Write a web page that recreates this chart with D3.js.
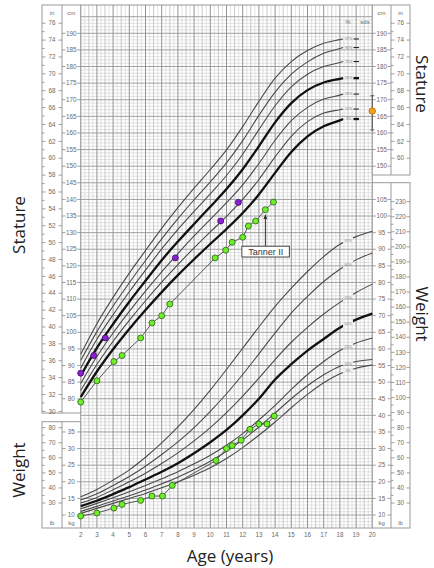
<!DOCTYPE html>
<html>
<head>
<meta charset="utf-8">
<script src="https://cdn.jsdelivr.net/npm/d3@7"></script>
<style>
  body { margin: 0; background: #fff; }
  svg text { font-family: Arial, "Liberation Sans", sans-serif; }
</style>
</head>
<body>
<div id="chart"></div>
<script>
// percentile reference curves
var percentiles = ["97%", "90%", "75%", "50%", "25%", "10%", "3%"]

var statureAges = [2, 3, 4, 5, 6, 7, 8, 9, 10, 11, 12, 13, 14, 15, 16, 17, 18, 18.2]
var stature97 = [93.4, 102.6, 110.5, 117.8, 124.6, 131.3, 137.5, 143.4, 149.0, 154.9, 161.9, 169.5, 176.5, 181.5, 184.8, 187.0, 188.1, 188.3]
var stature90 = [91.5, 100.2, 107.9, 114.9, 121.6, 128.1, 134.2, 139.9, 145.3, 151.0, 157.7, 165.3, 172.3, 177.7, 181.4, 184.0, 185.4, 185.7]
var stature75 = [89.2, 97.9, 105.3, 112.2, 118.7, 125.1, 131.0, 136.4, 141.7, 147.2, 153.6, 161.0, 168.2, 173.9, 177.7, 180.0, 181.2, 181.5]
var stature50 = [86.9, 95.3, 102.5, 109.2, 115.5, 121.7, 127.3, 132.6, 137.8, 143.1, 149.1, 156.0, 163.2, 169.0, 172.9, 175.2, 176.3, 176.5]
var stature25 = [84.6, 92.7, 99.8, 106.3, 112.4, 118.2, 123.7, 129.0, 134.0, 139.0, 144.4, 150.8, 157.8, 163.7, 167.7, 170.2, 171.4, 171.7]
var stature10 = [82.5, 90.3, 97.3, 103.6, 109.5, 115.1, 120.4, 125.4, 130.2, 134.9, 140.0, 146.0, 152.8, 159.0, 163.4, 166.0, 167.0, 167.2]
var stature3 = [80.5, 88.2, 94.9, 101.0, 106.7, 112.1, 117.2, 122.0, 126.6, 131.1, 135.9, 141.5, 148.0, 154.3, 159.0, 162.0, 163.8, 164.2]

var weightAges = [2, 3, 4, 5, 6, 7, 8, 9, 10, 11, 12, 13, 14, 15, 16, 17, 18, 19, 20]
var weight97 = [15.5, 17.7, 20.5, 23.6, 27.4, 31.7, 36.5, 41.8, 47.6, 53.8, 60.2, 66.6, 72.8, 78.3, 83.3, 87.8, 91.5, 93.8, 95.4]
var weight90 = [14.5, 16.4, 18.9, 21.6, 24.7, 28.2, 32.0, 36.3, 41.2, 46.5, 52.3, 58.5, 64.8, 70.8, 75.8, 80.3, 84.0, 86.8, 88.9]
var weight75 = [13.6, 15.3, 17.6, 20.0, 22.6, 25.5, 28.7, 32.3, 36.3, 40.8, 45.8, 51.2, 56.8, 62.0, 66.5, 70.5, 74.0, 77.0, 79.5]
var weight50 = [12.7, 14.3, 16.3, 18.4, 20.7, 23.0, 25.6, 28.6, 31.9, 35.6, 40.0, 45.0, 50.8, 55.4, 59.5, 63.0, 66.4, 68.8, 70.6]
var weight25 = [11.9, 13.5, 15.2, 17.0, 18.9, 20.9, 23.0, 25.4, 28.0, 31.0, 34.5, 38.6, 43.0, 47.8, 52.3, 56.2, 59.5, 61.8, 63.3]
var weight10 = [11.1, 12.6, 14.2, 15.8, 17.5, 19.4, 21.4, 23.7, 26.2, 29.2, 32.6, 36.5, 40.7, 45.0, 48.9, 52.2, 54.8, 56.2, 56.8]
var weight3 = [10.5, 12.0, 13.5, 15.0, 16.5, 18.2, 20.0, 22.0, 24.2, 27.0, 30.3, 34.0, 38.0, 42.3, 46.3, 49.8, 52.5, 54.2, 55.2]

// patient (green)
var heightAges = [2.0, 3.0, 4.05, 4.55, 5.7, 6.4, 7.0, 7.5, 10.3, 10.95, 11.35, 12.0, 12.35, 12.8, 13.4, 13.9]
var heights = [79.0, 85.4, 91.2, 93.0, 98.3, 102.8, 105.0, 108.5, 122.4, 124.7, 127.1, 128.6, 132.0, 133.5, 136.9, 139.2]
var weighAges = [2.0, 3.0, 4.05, 4.55, 5.7, 6.4, 7.05, 7.65, 10.35, 11.0, 11.35, 11.9, 12.45, 13.0, 13.5, 13.95]
var weights = [9.7, 10.6, 12.1, 13.2, 14.4, 15.7, 15.7, 18.9, 26.4, 30.0, 30.9, 32.5, 35.8, 37.4, 37.4, 39.8]

// second child (purple)
var otherAges = [2.0, 2.8, 3.52, 7.84, 10.64, 11.73]
var otherHeights = [87.7, 93.0, 98.3, 122.4, 133.5, 139.1]

// target height at 20 y: [low, mid, high]
var targetHeight = [160.9, 166.6, 171.2]

var ageTicks = d3.range(2, 21)
var tannerIndex = 14

var statureCurves = [stature97, stature90, stature75, stature50, stature25, stature10, stature3]
var weightCurves = [weight97, weight90, weight75, weight50, weight25, weight10, weight3]
var statureThick = ["50%", "3%"]
var weightThick = ["50%"]

var width = 434, height = 568
var plotTop = 5, plotBottom = 528

var svg = d3.select("#chart").append("svg")
  .attr("width", width)
  .attr("height", height)
var defs = svg.append("defs")

var xScale = d3.scaleLinear().domain([2, 20]).range([80.7, 372.3])
// cm and kg share one millimetre grid, kg offset by 35 units
var yStature = d3.scaleLinear().domain([195, 41]).range([16.7, 528.3])
var yWeight = d3.scaleLinear().domain([160, 6]).range([16.7, 528.3])

// ---------- grid ----------
var grid = svg.append("g")
var unitLines = d3.range(42, 196)
grid.selectAll(".hmin").data(unitLines.filter(function(u) { return u % 5 != 0 }))
  .enter().append("line")
  .attr("x1", xScale(2)).attr("x2", xScale(20))
  .attr("y1", function(u) { return yStature(u) }).attr("y2", function(u) { return yStature(u) })
  .attr("stroke", "#d6d6d6").attr("stroke-width", 0.7)

var quarter = d3.range(2, 20.01, 0.25)
grid.selectAll(".vmin").data(quarter.filter(function(a) { return a % 0.5 != 0 }))
  .enter().append("line")
  .attr("x1", function(a) { return xScale(a) }).attr("x2", function(a) { return xScale(a) })
  .attr("y1", plotTop).attr("y2", plotBottom)
  .attr("stroke", "#d6d6d6").attr("stroke-width", 0.7)

grid.selectAll(".vmid").data(quarter.filter(function(a) { return a % 0.5 == 0 && a % 1 != 0 }))
  .enter().append("line")
  .attr("x1", function(a) { return xScale(a) }).attr("x2", function(a) { return xScale(a) })
  .attr("y1", plotTop).attr("y2", plotBottom)
  .attr("stroke", "#bababa").attr("stroke-width", 0.8)

grid.selectAll(".hmaj").data(unitLines.filter(function(u) { return u % 5 == 0 }))
  .enter().append("line")
  .attr("x1", xScale(2)).attr("x2", xScale(20))
  .attr("y1", function(u) { return yStature(u) }).attr("y2", function(u) { return yStature(u) })
  .attr("stroke", "#a0a0a0").attr("stroke-width", 1)

grid.selectAll(".vmaj").data(ageTicks)
  .enter().append("line")
  .attr("x1", function(a) { return xScale(a) }).attr("x2", function(a) { return xScale(a) })
  .attr("y1", plotTop).attr("y2", plotBottom)
  .attr("stroke", "#939393").attr("stroke-width", 1)

// ---------- side panels ----------
var panels = [
  { x0: 42, x1: 80.7, y0: plotTop, y1: 413 },
  { x0: 42, x1: 80.7, y0: 421.7, y1: plotBottom },
  { x0: 372.3, x1: 410, y0: plotTop, y1: 175 },
  { x0: 372.3, x1: 410, y0: 182.7, y1: plotBottom }
]
svg.selectAll(".panel").data(panels)
  .enter().append("rect")
  .attr("x", function(d) { return d.x0 }).attr("y", function(d) { return d.y0 })
  .attr("width", function(d) { return d.x1 - d.x0 }).attr("height", function(d) { return d.y1 - d.y0 })
  .attr("fill", "#fff").attr("stroke", "#9a9a9a").attr("stroke-width", 1)

svg.append("line").attr("x1", 80.7).attr("x2", 372.3).attr("y1", plotBottom).attr("y2", plotBottom)
  .attr("stroke", "#9a9a9a")
svg.append("line").attr("x1", 80.7).attr("x2", 372.3).attr("y1", plotTop).attr("y2", plotTop)
  .attr("stroke", "#9a9a9a")

// label column: "- 190 -" style
function column(x0, x1, values, yOf, minor) {
  var g = svg.append("g")
  var cx = (x0 + x1) / 2
  g.selectAll("text").data(values).enter().append("text")
    .attr("x", cx).attr("y", function(v) { return yOf(v) + 2.2 })
    .attr("text-anchor", "middle").attr("font-size", 6.3).attr("fill", "#6a6a6a")
    .text(function(v) { return v })
  g.selectAll(".tl").data(values).enter().append("line")
    .attr("x1", x0).attr("x2", x0 + 3.5)
    .attr("y1", function(v) { return yOf(v) }).attr("y2", function(v) { return yOf(v) })
    .attr("stroke", "#888").attr("stroke-width", 0.8)
  g.selectAll(".tr").data(values).enter().append("line")
    .attr("x1", x1 - 3.5).attr("x2", x1)
    .attr("y1", function(v) { return yOf(v) }).attr("y2", function(v) { return yOf(v) })
    .attr("stroke", "#888").attr("stroke-width", 0.8)
  if (minor) {
    g.selectAll(".tm").data(minor).enter().append("line")
      .attr("x1", x0).attr("x2", x0 + 2.5)
      .attr("y1", function(v) { return yOf(v) }).attr("y2", function(v) { return yOf(v) })
      .attr("stroke", "#888").attr("stroke-width", 0.8)
  }
}
function inchY(v) { return yStature(v * 2.54) }
function lbY(v) { return yWeight(v * 0.45359) }

// dividers
svg.append("line").attr("x1", 62).attr("x2", 62).attr("y1", plotTop).attr("y2", 413).attr("stroke", "#9a9a9a")
svg.append("line").attr("x1", 62).attr("x2", 62).attr("y1", 421.7).attr("y2", plotBottom).attr("stroke", "#9a9a9a")
svg.append("line").attr("x1", 391).attr("x2", 391).attr("y1", plotTop).attr("y2", 175).attr("stroke", "#9a9a9a")
svg.append("line").attr("x1", 391).attr("x2", 391).attr("y1", 182.7).attr("y2", plotBottom).attr("stroke", "#9a9a9a")

column(62, 80.7, d3.range(190, 79, -5), yStature)
column(42, 62, d3.range(76, 29, -2), inchY, d3.range(75, 30, -2))
column(62, 80.7, d3.range(35, 9, -5), yWeight)
column(42, 62, d3.range(80, 29, -10), lbY, d3.range(75, 30, -10))
column(372.3, 391, d3.range(190, 149, -5), yStature)
column(391, 410, d3.range(76, 59, -2), inchY, d3.range(75, 60, -2))
column(372.3, 391, d3.range(105, 9, -5), yWeight)
column(391, 410, d3.range(230, 29, -10), lbY, d3.range(225, 30, -10))

var unitLabels = [["in", 52, 15], ["cm", 71.3, 15], ["cm", 381.6, 15], ["in", 400.5, 15],
  ["lb", 52, 524.5], ["kg", 71.3, 524.5], ["kg", 381.6, 524.5], ["lb", 400.5, 524.5],
  ["%", 348, 24], ["sds", 365, 24]]
svg.selectAll(".unit").data(unitLabels).enter().append("text")
  .attr("x", function(d) { return d[1] }).attr("y", function(d) { return d[2] })
  .attr("text-anchor", "middle").attr("font-size", 6).attr("fill", "#6a6a6a")
  .text(function(d) { return d[0] })

// age tick labels
svg.selectAll(".age").data(ageTicks).enter().append("text")
  .attr("x", function(a) { return xScale(a) }).attr("y", 536.5)
  .attr("text-anchor", "middle").attr("font-size", 6.3).attr("fill", "#6a6a6a")
  .text(function(a) { return a })

// ---------- percentile curves ----------
var statureLine = d3.line()
  .x(function(d) { return xScale(d[0]) })
  .y(function(d) { return yStature(d[1]) })
  .curve(d3.curveMonotoneX)
var weightLine = d3.line()
  .x(function(d) { return xScale(d[0]) })
  .y(function(d) { return yWeight(d[1]) })
  .curve(d3.curveMonotoneX)

statureCurves.forEach(function(values, i) {
  var thick = statureThick.indexOf(percentiles[i]) >= 0
  svg.append("path")
    .datum(d3.zip(statureAges, values))
    .attr("d", statureLine)
    .attr("fill", "none")
    .attr("stroke", thick ? "#111" : "#4a4a4a")
    .attr("stroke-width", thick ? 2.3 : 1.1)
  var yEnd = yStature(values[values.length - 1])
  svg.append("text").attr("x", 348.5).attr("y", yEnd + 1.3)
    .attr("text-anchor", "middle").attr("font-size", 3.6).attr("fill", "#777")
    .text(percentiles[i])
  svg.append("line").attr("x1", 353.5).attr("x2", 359).attr("y1", yEnd).attr("y2", yEnd)
    .attr("stroke", "#111").attr("stroke-width", thick ? 2.3 : 1)
})

// weight curves run to 20 y with a gap where the percentage sits
var labelAge = 18.5
var weightLabelY = weightCurves.map(function(values) {
  return yWeight((values[16] + values[17]) / 2)
})
var gapMask = defs.append("mask").attr("id", "labelGap")
gapMask.append("rect").attr("width", width).attr("height", height).attr("fill", "#fff")
gapMask.selectAll("rect.gap").data(weightLabelY).enter().append("rect")
  .attr("class", "gap")
  .attr("x", xScale(labelAge) - 5).attr("width", 10)
  .attr("y", function(y) { return y - 4 }).attr("height", 8)
  .attr("fill", "#000")

var weightGroup = svg.append("g").attr("mask", "url(#labelGap)")
weightCurves.forEach(function(values, i) {
  var thick = weightThick.indexOf(percentiles[i]) >= 0
  weightGroup.append("path")
    .datum(d3.zip(weightAges, values))
    .attr("d", weightLine)
    .attr("fill", "none")
    .attr("stroke", thick ? "#111" : "#4a4a4a")
    .attr("stroke-width", thick ? 2.3 : 1.1)
  svg.append("text").attr("x", xScale(labelAge)).attr("y", weightLabelY[i] + 1.3)
    .attr("text-anchor", "middle").attr("font-size", 3.6).attr("fill", "#777")
    .text(percentiles[i])
})

// ---------- target height ----------
svg.append("line")
  .attr("x1", xScale(20)).attr("x2", xScale(20))
  .attr("y1", yStature(targetHeight[0])).attr("y2", yStature(targetHeight[2]))
  .attr("stroke", "#555").attr("stroke-width", 1)
svg.selectAll(".cap").data([targetHeight[0], targetHeight[2]]).enter().append("line")
  .attr("x1", xScale(20) - 2).attr("x2", xScale(20) + 2)
  .attr("y1", function(v) { return yStature(v) }).attr("y2", function(v) { return yStature(v) })
  .attr("stroke", "#555").attr("stroke-width", 1)
svg.append("circle")
  .attr("cx", xScale(20)).attr("cy", yStature(targetHeight[1])).attr("r", 3.2)
  .attr("fill", "#f5a21c").attr("stroke", "#a8650a").attr("stroke-width", 0.8)

// ---------- patient data ----------
var heightPts = d3.zip(heightAges, heights)
var weightPts = d3.zip(weighAges, weights)
var plainLine = function(yS) {
  return d3.line().x(function(d) { return xScale(d[0]) }).y(function(d) { return yS(d[1]) })
}
svg.append("path").datum(heightPts).attr("d", plainLine(yStature))
  .attr("fill", "none").attr("stroke", "#555").attr("stroke-width", 1)
svg.append("path").datum(weightPts).attr("d", plainLine(yWeight))
  .attr("fill", "none").attr("stroke", "#555").attr("stroke-width", 1)

svg.selectAll(".hpt").data(heightPts).enter().append("circle")
  .attr("cx", function(d) { return xScale(d[0]) }).attr("cy", function(d) { return yStature(d[1]) })
  .attr("r", 3).attr("fill", "#6df02a").attr("stroke", "#2f5a18").attr("stroke-width", 0.8)
svg.selectAll(".wpt").data(weightPts).enter().append("circle")
  .attr("cx", function(d) { return xScale(d[0]) }).attr("cy", function(d) { return yWeight(d[1]) })
  .attr("r", 3).attr("fill", "#6df02a").attr("stroke", "#2f5a18").attr("stroke-width", 0.8)

svg.selectAll(".opt").data(d3.zip(otherAges, otherHeights)).enter().append("circle")
  .attr("cx", function(d) { return xScale(d[0]) }).attr("cy", function(d) { return yStature(d[1]) })
  .attr("r", 3).attr("fill", "#8a1fd6").attr("stroke", "#3c0a5e").attr("stroke-width", 0.8)

// ---------- Tanner II note ----------
var tx = xScale(heightAges[tannerIndex]), ty = yStature(heights[tannerIndex])
defs.append("marker")
  .attr("id", "arrow").attr("viewBox", "0 0 10 10").attr("refX", 9).attr("refY", 5)
  .attr("markerWidth", 5).attr("markerHeight", 5).attr("orient", "auto")
  .append("path").attr("d", "M0,1L10,5L0,9Z").attr("fill", "#333")
svg.append("line").attr("x1", tx).attr("x2", tx).attr("y1", ty + 36.5).attr("y2", ty + 5)
  .attr("stroke", "#333").attr("stroke-width", 1).attr("marker-end", "url(#arrow)")
svg.append("rect").attr("x", tx - 23.5).attr("y", ty + 36.5).attr("width", 47.5).attr("height", 10.8)
  .attr("fill", "#fff").attr("stroke", "#444").attr("stroke-width", 1)
svg.append("text").attr("x", tx + 0.3).attr("y", ty + 45)
  .attr("text-anchor", "middle").attr("font-size", 9).attr("fill", "#333")
  .text("Tanner II")

// ---------- axis titles ----------
var titles = [
  ["Stature", "translate(24.5,225) rotate(-90)"],
  ["Weight", "translate(24.5,470) rotate(-90)"],
  ["Stature", "translate(415.5,84) rotate(90)"],
  ["Weight", "translate(415.5,314) rotate(90)"],
  ["Age (years)", "translate(230,562)"]
]
svg.selectAll(".title").data(titles).enter().append("text")
  .attr("transform", function(d) { return d[1] })
  .attr("text-anchor", "middle").attr("font-size", 17)
  .style("font-family", "'Open Sans', sans-serif").attr("fill", "#222")
  .text(function(d) { return d[0] })
</script>
</body>
</html>
